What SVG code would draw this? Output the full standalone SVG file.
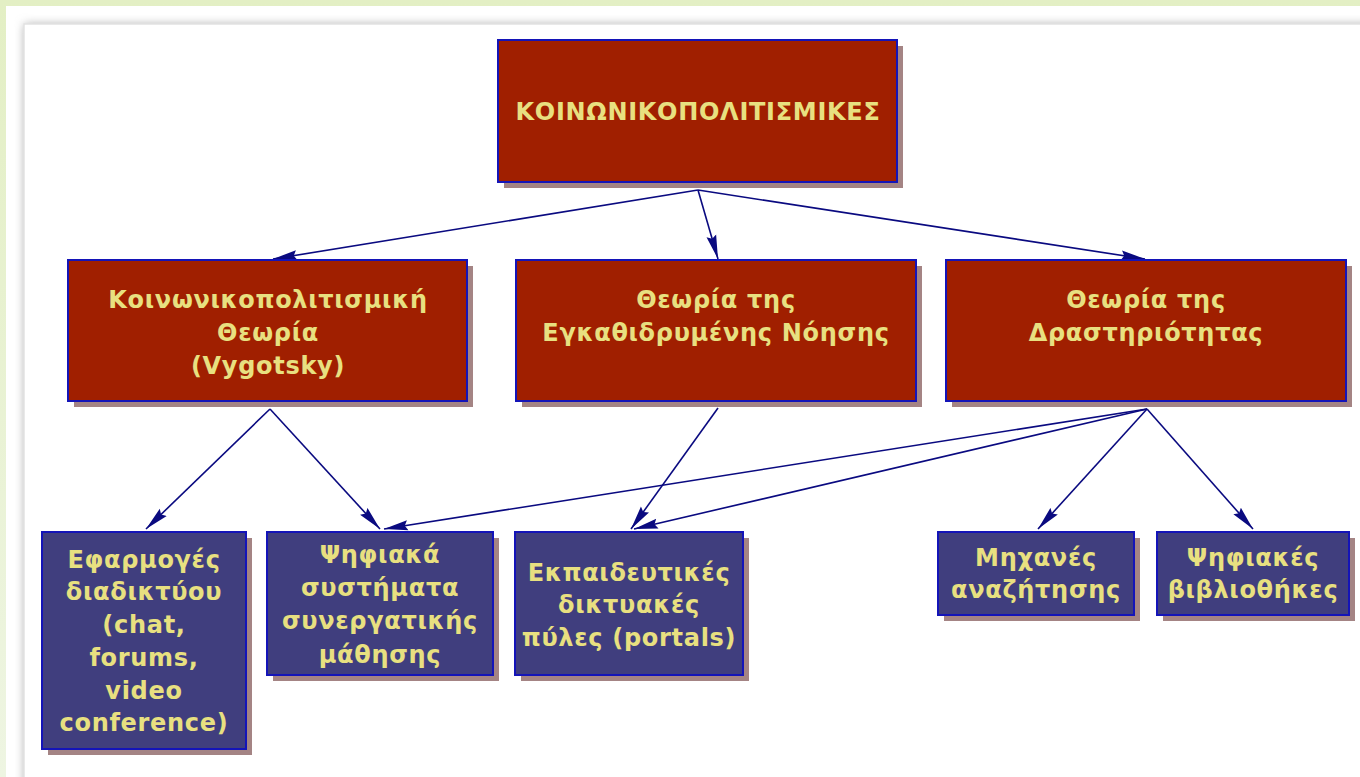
<svg xmlns="http://www.w3.org/2000/svg" width="1360" height="777" viewBox="0 0 1360 777">
<defs>
<linearGradient id="bgG" x1="0" y1="0" x2="0" y2="1">
<stop offset="0" stop-color="#e3efc4"/>
<stop offset="1" stop-color="#eef5e2"/>
</linearGradient>
<filter id="blur" x="-5%" y="-5%" width="110%" height="110%"><feGaussianBlur stdDeviation="5"/></filter>
<marker id="arr" viewBox="0 0 24 11" refX="24" refY="5.5" markerWidth="24" markerHeight="11" markerUnits="userSpaceOnUse" orient="auto">
<path d="M0,0.5 L24,5.5 L0,10.5 L3,5.5 z" fill="#0a0a80"/>
</marker>
<style>
.red{fill:#a01f00;stroke:#1414b8;stroke-width:2}
.blue{fill:#403e7e;stroke:#1414b8;stroke-width:2}
.sh{fill:#a48484}
.t{font-family:"DejaVu Sans",Verdana,sans-serif;font-weight:bold;font-size:24px;letter-spacing:0.7px;fill:#e8e080;text-anchor:middle}
.c{stroke:#0a0a80;stroke-width:1.6;fill:none;marker-end:url(#arr)}
</style>
</defs>
<rect x="0" y="0" width="1360" height="777" fill="url(#bgG)"/>
<rect x="6" y="6" width="1360" height="777" fill="#ffffff"/>
<rect x="24" y="24" width="1400" height="800" fill="#b0b0b0" filter="url(#blur)"/>
<rect x="24" y="24" width="1400" height="800" fill="#ffffff" stroke="#e2e2e2" stroke-width="1.5"/>

<g id="connectors">
<line class="c" x1="698" y1="190" x2="273" y2="259"/>
<line class="c" x1="698" y1="190" x2="718" y2="259"/>
<line class="c" x1="698" y1="190" x2="1145" y2="259"/>
<line class="c" x1="270" y1="409" x2="146" y2="529"/>
<line class="c" x1="270" y1="409" x2="380" y2="529"/>
<line class="c" x1="718" y1="408" x2="631" y2="529"/>
<line class="c" x1="1147" y1="409" x2="384" y2="529"/>
<line class="c" x1="1147" y1="409" x2="634" y2="529"/>
<line class="c" x1="1147" y1="409" x2="1038" y2="529"/>
<line class="c" x1="1147" y1="409" x2="1253" y2="529"/>
</g>

<g id="n-top">
<rect class="sh" x="504" y="46" width="399" height="142"/>
<rect class="red" x="498" y="40" width="399" height="142"/>
<text class="t" x="698" y="120">ΚΟΙΝΩΝΙΚΟΠΟΛΙΤΙΣΜΙΚΕΣ</text>
</g>

<g id="n-vygotsky">
<rect class="sh" x="74" y="266" width="399" height="141"/>
<rect class="red" x="68" y="260" width="399" height="141"/>
<text class="t" x="268" y="308">Κοινωνικοπολιτισμική</text>
<text class="t" x="268" y="341">Θεωρία</text>
<text class="t" x="268" y="374">(Vygotsky)</text>
</g>

<g id="n-situated">
<rect class="sh" x="522" y="266" width="400" height="141"/>
<rect class="red" x="516" y="260" width="400" height="141"/>
<text class="t" x="716" y="308">Θεωρία της</text>
<text class="t" x="716" y="341">Εγκαθιδρυμένης Νόησης</text>
</g>

<g id="n-activity">
<rect class="sh" x="952" y="266" width="400" height="141"/>
<rect class="red" x="946" y="260" width="400" height="141"/>
<text class="t" x="1146" y="308">Θεωρία της</text>
<text class="t" x="1146" y="341">Δραστηριότητας</text>
</g>

<g id="n-web">
<rect class="sh" x="48" y="538" width="204" height="217"/>
<rect class="blue" x="42" y="532" width="204" height="217"/>
<text class="t" x="144" y="568">Εφαρμογές</text>
<text class="t" x="144" y="600">διαδικτύου</text>
<text class="t" x="144" y="633">(chat,</text>
<text class="t" x="144" y="666">forums,</text>
<text class="t" x="144" y="699">video</text>
<text class="t" x="144" y="731">conference)</text>
</g>

<g id="n-collab">
<rect class="sh" x="273" y="538" width="226" height="143"/>
<rect class="blue" x="267" y="532" width="226" height="143"/>
<text class="t" x="380" y="563">Ψηφιακά</text>
<text class="t" x="380" y="596">συστήματα</text>
<text class="t" x="380" y="629">συνεργατικής</text>
<text class="t" x="380" y="663">μάθησης</text>
</g>

<g id="n-portals">
<rect class="sh" x="521" y="538" width="228" height="143"/>
<rect class="blue" x="515" y="532" width="228" height="143"/>
<text class="t" x="629" y="581">Εκπαιδευτικές</text>
<text class="t" x="629" y="613">δικτυακές</text>
<text class="t" x="629" y="646">πύλες (portals)</text>
</g>

<g id="n-search">
<rect class="sh" x="944" y="538" width="196" height="83"/>
<rect class="blue" x="938" y="532" width="196" height="83"/>
<text class="t" x="1036" y="566">Μηχανές</text>
<text class="t" x="1036" y="598">αναζήτησης</text>
</g>

<g id="n-libraries">
<rect class="sh" x="1163" y="538" width="192" height="83"/>
<rect class="blue" x="1157" y="532" width="192" height="83"/>
<text class="t" x="1253" y="566">Ψηφιακές</text>
<text class="t" x="1253" y="598">βιβλιοθήκες</text>
</g>
</svg>
